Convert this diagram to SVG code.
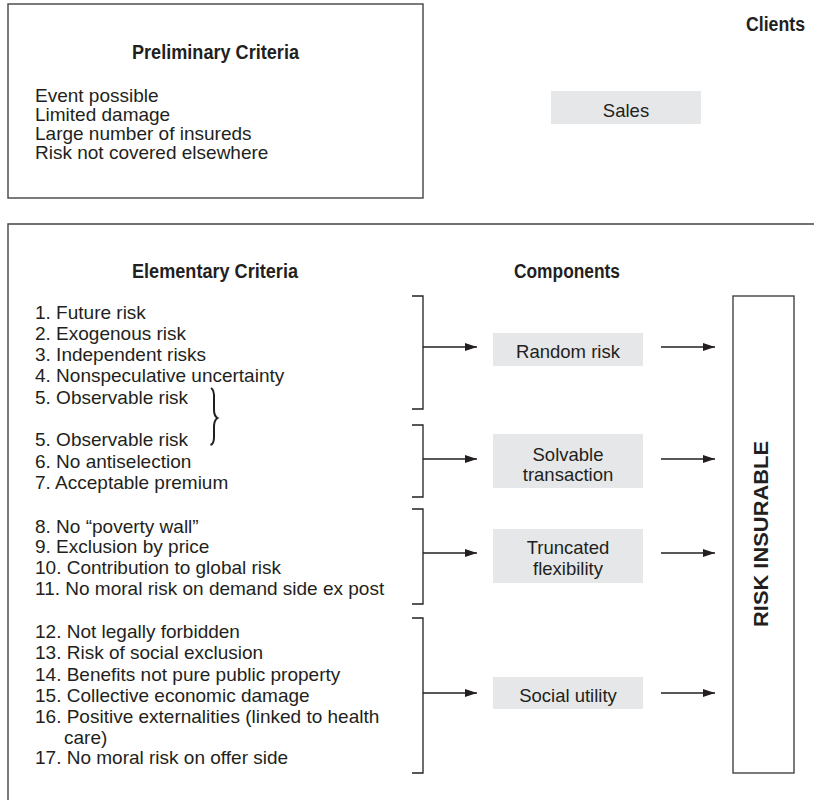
<svg xmlns="http://www.w3.org/2000/svg" width="814" height="800" viewBox="0 0 814 800">
<style>
  text { font-family: "Liberation Sans", Arial, sans-serif; fill: #231f20; }
  .b { font-weight: bold; font-size: 19.5px; }
  .t { font-size: 19px; }
  .c { font-size: 18.5px; text-anchor: middle; }
  .frame { fill: none; stroke: #444; stroke-width: 1.4; }
  .comp { fill: #e6e7e8; stroke: none; }
  .ln { fill: none; stroke: #231f20; stroke-width: 1.3; }
</style>
<defs>
  <marker id="ah" viewBox="0 0 12 8" refX="12" refY="4" markerWidth="12" markerHeight="8" markerUnits="userSpaceOnUse" orient="auto">
    <path d="M0,0 L12,4 L0,8 Z" fill="#231f20"/>
  </marker>
</defs>
<rect width="814" height="800" fill="#fff"/>

<g id="preliminary">
  <rect class="frame" x="8" y="4" width="415" height="194"/>
  <text class="b" x="132" y="59" textLength="167" lengthAdjust="spacingAndGlyphs">Preliminary Criteria</text>
  <text class="t" x="35" y="101.5">Event possible</text>
  <text class="t" x="35" y="120.7">Limited damage</text>
  <text class="t" x="35" y="140">Large number of insureds</text>
  <text class="t" x="35" y="159">Risk not covered elsewhere</text>
</g>

<g id="clients">
  <text class="b" x="746" y="30.5" textLength="59" lengthAdjust="spacingAndGlyphs">Clients</text>
</g>

<g id="sales">
  <rect class="comp" x="551" y="91" width="150" height="33"/>
  <text class="c" x="626" y="117">Sales</text>
</g>

<g id="main-frame">
  <path class="frame" d="M8,800 L8,224 L814,224"/>
</g>

<g id="elementary">
  <text class="b" x="132" y="278" textLength="166" lengthAdjust="spacingAndGlyphs">Elementary Criteria</text>
  <text class="t" x="35" y="319">1. Future risk</text>
  <text class="t" x="35" y="340">2. Exogenous risk</text>
  <text class="t" x="35" y="361">3. Independent risks</text>
  <text class="t" x="35" y="382">4. Nonspeculative uncertainty</text>
  <text class="t" x="35" y="404">5. Observable risk</text>
  <text class="t" x="35" y="446">5. Observable risk</text>
  <text class="t" x="35" y="468">6. No antiselection</text>
  <text class="t" x="35" y="489">7. Acceptable premium</text>
  <text class="t" x="35" y="533">8. No “poverty wall”</text>
  <text class="t" x="35" y="553">9. Exclusion by price</text>
  <text class="t" x="35" y="574">10. Contribution to global risk</text>
  <text class="t" x="35" y="595">11. No moral risk on demand side ex post</text>
  <text class="t" x="35" y="637.5">12. Not legally forbidden</text>
  <text class="t" x="35" y="659">13. Risk of social exclusion</text>
  <text class="t" x="35" y="680.5">14. Benefits not pure public property</text>
  <text class="t" x="35" y="702">15. Collective economic damage</text>
  <text class="t" x="35" y="723">16. Positive externalities (linked to health</text>
  <text class="t" x="64" y="743.5">care)</text>
  <text class="t" x="35" y="764">17. No moral risk on offer side</text>
</g>

<g id="components-heading">
  <text class="b" x="514" y="278" textLength="106" lengthAdjust="spacingAndGlyphs">Components</text>
</g>

<g id="random-risk">
  <rect class="comp" x="493" y="333" width="150" height="33"/>
  <text class="c" x="568" y="357.5">Random risk</text>
</g>
<g id="solvable-transaction">
  <rect class="comp" x="493" y="434" width="150" height="54"/>
  <text class="c" x="568" y="461">Solvable</text>
  <text class="c" x="568" y="481">transaction</text>
</g>
<g id="truncated-flexibility">
  <rect class="comp" x="493" y="529" width="150" height="54"/>
  <text class="c" x="568" y="554">Truncated</text>
  <text class="c" x="568" y="575">flexibility</text>
</g>
<g id="social-utility">
  <rect class="comp" x="493" y="677" width="150" height="32"/>
  <text class="c" x="568" y="702">Social utility</text>
</g>

<g id="risk-insurable">
  <rect class="frame" x="733" y="296" width="61" height="477"/>
  <text class="b" transform="translate(768,534) rotate(-90)" x="-93" y="0" font-size="20" textLength="186" lengthAdjust="spacingAndGlyphs">RISK INSURABLE</text>
</g>

<g id="connectors">
  <path class="ln" d="M412,296 H423 V409 H412"/>
  <path class="ln" d="M412,425 H423 V497 H412"/>
  <path class="ln" d="M412,509 H423 V604 H412"/>
  <path class="ln" d="M412,618 H423 V773 H412"/>
  <path class="ln" d="M423,347 H477" marker-end="url(#ah)"/>
  <path class="ln" d="M423,459 H477" marker-end="url(#ah)"/>
  <path class="ln" d="M423,553 H477" marker-end="url(#ah)"/>
  <path class="ln" d="M423,693 H477" marker-end="url(#ah)"/>
  <path class="ln" d="M661,347 H715" marker-end="url(#ah)"/>
  <path class="ln" d="M661,459 H715" marker-end="url(#ah)"/>
  <path class="ln" d="M661,553 H715" marker-end="url(#ah)"/>
  <path class="ln" d="M661,693 H715" marker-end="url(#ah)"/>
  <path d="M211,388 Q214.5,390 214,399 L214,410 Q214,416 217.5,418 Q214,420 214,427 L214,437 Q214,444 210.5,445" fill="none" stroke="#231f20" stroke-width="2"/>
</g>
</svg>
